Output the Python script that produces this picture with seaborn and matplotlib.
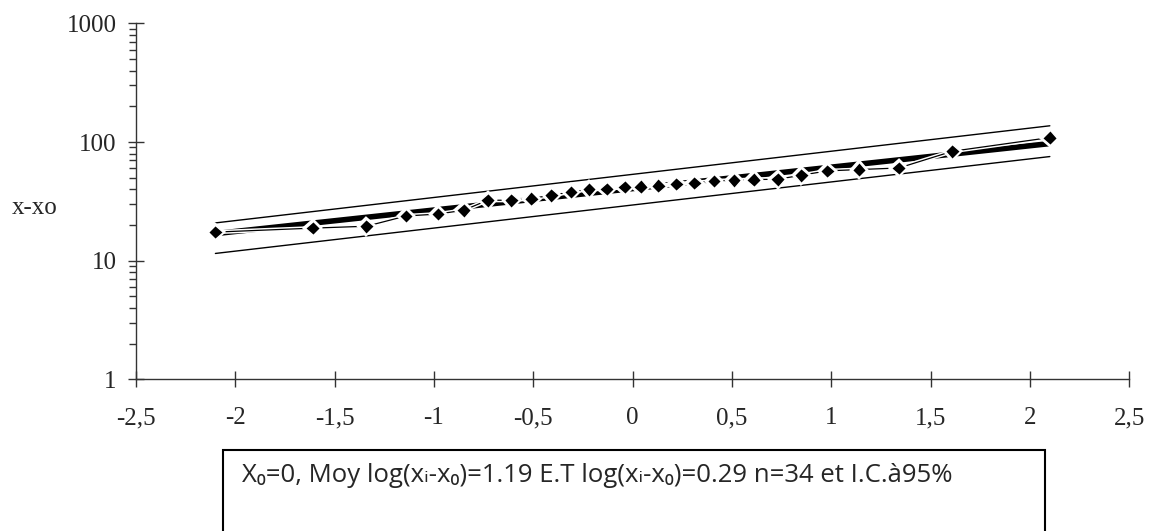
import numpy as np
import pandas as pd
import matplotlib
matplotlib.use("Agg")
import matplotlib.pyplot as plt
import matplotlib.patheffects as pe
from matplotlib.patches import Rectangle
from matplotlib.ticker import LogLocator, NullFormatter
import seaborn as sns

quantiles = [-2.10, -1.61, -1.34, -1.14, -0.98, -0.85, -0.73, -0.61, -0.51, -0.41,
             -0.31, -0.22, -0.13, -0.04, 0.04, 0.13, 0.22, 0.31, 0.41, 0.51,
             0.61, 0.73, 0.85, 0.98, 1.14, 1.34, 1.61, 2.10]
values = [17.4, 18.8, 19.5, 23.8, 24.7, 26.6, 32.3, 32.3, 33.4, 35.6,
          37.9, 40.0, 40.2, 41.8, 42.1, 42.9, 44.3, 45.2, 47.0, 47.6,
          48.3, 48.5, 52.5, 57.1, 58.6, 60.4, 83.6, 109.0]

# fitted line and 95% band, at both ends of the quantile range
line_x = [-2.10, 2.10]
fit_y = [16.9, 97.0]
upper_y = [20.8, 137.0]
lower_y = [11.5, 75.4]

x_ticks = [-2.5, -2, -1.5, -1, -0.5, 0, 0.5, 1, 1.5, 2, 2.5]
x_tick_labels = ["-2,5", "-2", "-1,5", "-1", "-0,5", "0", "0,5", "1", "1,5", "2", "2,5"]
y_ticks = [1, 10, 100, 1000]
y_tick_labels = ["1", "10", "100", "1000"]

info = "X\u2080=0, Moy log(x\u1d62-x\u2080)=1.19 E.T log(x\u1d62-x\u2080)=0.29 n=34 et I.C.\u00e095%"

sns.set_style("ticks")
plt.rcParams["font.family"] = ["Liberation Serif", "DejaVu Serif"]

pts = pd.DataFrame({"q": quantiles, "v": values})
band = pd.DataFrame({"q": line_x, "fit": fit_y, "up": upper_y, "lo": lower_y})

fig = plt.figure(figsize=(11.52, 5.31), dpi=100)
ax = fig.add_axes([0.118, 0.2857, 0.8623, 0.6703])

sns.lineplot(data=band, x="q", y="up", color="black", lw=1.0, ax=ax)
sns.lineplot(data=band, x="q", y="lo", color="black", lw=1.0, ax=ax)
sns.lineplot(data=band, x="q", y="fit", color="black", lw=4.0, ax=ax)
sns.lineplot(data=pts, x="q", y="v", color="black", lw=0.9, sort=False,
             estimator=None, marker="D", markersize=7.5, markerfacecolor="black",
             markeredgecolor="white", markeredgewidth=1.0, ax=ax,
             path_effects=[pe.Stroke(linewidth=3, foreground="white"), pe.Normal()])

ax.set_yscale("log")
ax.set_xlim(-2.5, 2.5)
ax.set_ylim(1, 1000)
ax.set_xticks(x_ticks)
ax.set_xticklabels(x_tick_labels, fontsize=18)
ax.set_yticks(y_ticks)
ax.set_yticklabels(y_tick_labels, fontsize=18)
ax.yaxis.set_minor_locator(LogLocator(base=10, subs=np.arange(2, 10)))
ax.yaxis.set_minor_formatter(NullFormatter())
ax.tick_params(axis="both", which="major", direction="inout", length=12,
               width=1, color="#333333")
ax.tick_params(axis="x", which="major", pad=14)
ax.tick_params(axis="y", which="major", pad=8)
ax.tick_params(axis="y", which="minor", direction="out", length=5, width=1,
               color="#333333")
ax.tick_params(axis="x", which="minor", bottom=False)

sns.despine(ax=ax)
for s in ["left", "bottom"]:
    ax.spines[s].set_color("#333333")
    ax.spines[s].set_linewidth(1)

ax.set_xlabel("")
ax.set_ylabel("x-xo", fontsize=18, rotation=0, va="center", ha="center")
ax.yaxis.set_label_coords(-0.102, 0.48)

fig.patches.append(Rectangle((0.1936, -0.2), 0.7135, 0.3525, transform=fig.transFigure,
                             fill=False, edgecolor="black", lw=1.5))
fig.text(0.210, 0.0923, info, fontsize=18.5, va="baseline", ha="left",
         family=["Open Sans", "DejaVu Sans"])

fig.savefig("out.png", dpi=100)
